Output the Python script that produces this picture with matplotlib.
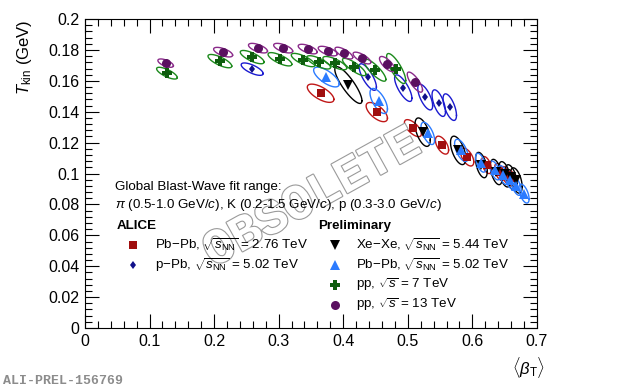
import numpy as np
import matplotlib
matplotlib.use("Agg")
import matplotlib.pyplot as plt
import matplotlib.patheffects as pe
from matplotlib.lines import Line2D
from matplotlib.ticker import MultipleLocator, FuncFormatter

plt.rcParams['font.family'] = ['Liberation Sans', 'DejaVu Sans']
plt.rcParams['mathtext.fontset'] = 'custom'
plt.rcParams['mathtext.rm'] = 'Liberation Sans'
plt.rcParams['mathtext.it'] = 'Liberation Sans:italic'
plt.rcParams['mathtext.bf'] = 'Liberation Sans:bold'

# Pb-Pb 2.76 TeV
pbpb276_beta = [0.365, 0.452, 0.508, 0.553, 0.592, 0.622, 0.642, 0.652, 0.660]
pbpb276_t = [0.1520, 0.1398, 0.1294, 0.1184, 0.1107, 0.1055, 0.1010, 0.0990, 0.0970]
pbpb276_sb = [0.0206, 0.0165, 0.0132, 0.0102, 0.0102, 0.0075, 0.0075, 0.0075, 0.0075]
pbpb276_st = [0.0059, 0.0062, 0.0055, 0.0058, 0.0058, 0.0055, 0.0055, 0.0055, 0.0055]
pbpb276_rho = [-0.67, -0.64, -0.66, -0.55, -0.55, -0.50, -0.50, -0.50, -0.50]

# p-Pb 5.02 TeV
ppb_beta = [0.259, 0.438, 0.493, 0.527, 0.548, 0.565]
ppb_t = [0.1676, 0.1625, 0.1553, 0.1495, 0.1456, 0.1430]
ppb_sb = [0.0170, 0.0134, 0.0134, 0.0115, 0.0104, 0.0104]
ppb_st = [0.0040, 0.0086, 0.0086, 0.0083, 0.0086, 0.0086]
ppb_rho = [-0.71, -0.76, -0.76, -0.68, -0.62, -0.62]

# Xe-Xe 5.44 TeV
xexe_beta = [0.408, 0.523, 0.578, 0.614, 0.637, 0.650, 0.660, 0.668]
xexe_t = [0.1573, 0.1268, 0.1150, 0.1055, 0.1010, 0.0995, 0.0975, 0.0955]
xexe_sb = [0.0210, 0.0118, 0.0118, 0.0091, 0.0091, 0.0091, 0.0091, 0.0091]
xexe_st = [0.0119, 0.0092, 0.0092, 0.0082, 0.0082, 0.0082, 0.0082, 0.0082]
xexe_rho = [-0.85, -0.56, -0.56, -0.49, -0.49, -0.49, -0.49, -0.49]

# Pb-Pb 5.02 TeV
pbpb502_beta = [0.374, 0.455, 0.531, 0.583, 0.613, 0.635, 0.648, 0.658, 0.668, 0.680]
pbpb502_t = [0.1625, 0.1470, 0.1260, 0.1150, 0.1070, 0.1020, 0.0990, 0.0960, 0.0920, 0.0870]
pbpb502_sb = [0.0198, 0.0135, 0.0105, 0.0105, 0.0079, 0.0079, 0.0079, 0.0079, 0.0079, 0.0079]
pbpb502_st = [0.0064, 0.0081, 0.0072, 0.0072, 0.0061, 0.0061, 0.0061, 0.0061, 0.0061, 0.0061]
pbpb502_rho = [-0.70, -0.64, -0.61, -0.61, -0.56, -0.56, -0.56, -0.56, -0.56, -0.56]

# pp 7 TeV
pp7_beta = [0.127, 0.209, 0.259, 0.302, 0.338, 0.362, 0.387, 0.417, 0.449, 0.482]
pp7_t = [0.1650, 0.1728, 0.1754, 0.1740, 0.1735, 0.1720, 0.1715, 0.1690, 0.1670, 0.1680]
pp7_sb = [0.0160, 0.0184, 0.0184, 0.0184, 0.0184, 0.0184, 0.0184, 0.0181, 0.0171, 0.0148]
pp7_st = [0.0038, 0.0043, 0.0043, 0.0043, 0.0043, 0.0043, 0.0043, 0.0056, 0.0072, 0.0097]
pp7_rho = [-0.75, -0.75, -0.75, -0.75, -0.75, -0.75, -0.75, -0.83, -0.84, -0.80]

# pp 13 TeV
pp13_beta = [0.125, 0.214, 0.268, 0.307, 0.345, 0.376, 0.401, 0.429, 0.468, 0.511]
pp13_t = [0.1715, 0.1786, 0.1812, 0.1812, 0.1806, 0.1793, 0.1780, 0.1748, 0.1709, 0.1592]
pp13_sb = [0.0120, 0.0147, 0.0147, 0.0147, 0.0147, 0.0147, 0.0137, 0.0137, 0.0118, 0.0118]
pp13_st = [0.0027, 0.0031, 0.0031, 0.0031, 0.0031, 0.0031, 0.0038, 0.0038, 0.0049, 0.0065]
pp13_rho = [-0.63, -0.63, -0.63, -0.63, -0.63, -0.63, -0.73, -0.73, -0.72, -0.78]

series = [
    # beta, T, sigma_beta, sigma_T, rho, ellipse colour, marker colour, marker, size, label
    (pbpb276_beta, pbpb276_t, pbpb276_sb, pbpb276_st, pbpb276_rho, '#c01818', '#a00e0e', 's', 6,
     r'Pb$-$Pb, $\sqrt{s_{\rm NN}}$ = 2.76 TeV'),
    (ppb_beta, ppb_t, ppb_sb, ppb_st, ppb_rho, '#1a1ad0', '#10108a', 'd', 4.5,
     r'p$-$Pb, $\sqrt{s_{\rm NN}}$ = 5.02 TeV'),
    (xexe_beta, xexe_t, xexe_sb, xexe_st, xexe_rho, 'black', 'black', 'v', 6.5,
     r'Xe$-$Xe, $\sqrt{s_{\rm NN}}$ = 5.44 TeV'),
    (pbpb502_beta, pbpb502_t, pbpb502_sb, pbpb502_st, pbpb502_rho, '#2b7bff', '#2b7bff', '^', 6.5,
     r'Pb$-$Pb, $\sqrt{s_{\rm NN}}$ = 5.02 TeV'),
    (pp7_beta, pp7_t, pp7_sb, pp7_st, pp7_rho, '#1c8a1c', '#0e5e0e', 'P', 6.5,
     r'pp, $\sqrt{s}$ = 7 TeV'),
    (pp13_beta, pp13_t, pp13_sb, pp13_st, pp13_rho, '#8a2a8a', '#5a1060', 'o', 6.5,
     r'pp, $\sqrt{s}$ = 13 TeV'),
]

fig = plt.figure(figsize=(6.2, 3.9), dpi=100)
ax = fig.add_axes([0.137, 0.159, 0.729, 0.792])

t = np.linspace(0, 2 * np.pi, 120)
circle = np.vstack([np.cos(t), np.sin(t)])

def draw_contours(ax, xs, ys, sxs, sys_, rhos, color):
    for x, y, sx, sy, r in zip(xs, ys, sxs, sys_, rhos):
        cov = np.array([[sx * sx, r * sx * sy], [r * sx * sy, sy * sy]])
        pts = np.linalg.cholesky(cov) @ circle
        ax.plot(x + pts[0], y + pts[1], color=color, lw=1.0, zorder=2)

for xs, ys, sxs, sys_, rhos, ecol, mcol, mk, ms, lab in series:
    draw_contours(ax, xs, ys, sxs, sys_, rhos, ecol)
    ax.plot(xs, ys, linestyle='none', marker=mk, color=mcol, markersize=ms,
            markeredgewidth=0, zorder=3)

ax.set_xlim(0, 0.7)
ax.set_ylim(0, 0.2)
ax.xaxis.set_major_locator(MultipleLocator(0.1))
ax.xaxis.set_minor_locator(MultipleLocator(0.02))
ax.yaxis.set_major_locator(MultipleLocator(0.02))
ax.yaxis.set_minor_locator(MultipleLocator(0.004))
fmt = FuncFormatter(lambda v, p: f'{round(v, 4):g}')
ax.xaxis.set_major_formatter(fmt)
ax.yaxis.set_major_formatter(fmt)
ax.tick_params(which='both', direction='in', top=True, right=True, labelsize=11.5, pad=4)
ax.tick_params(which='major', length=10, width=0.8)
ax.tick_params(which='minor', length=5, width=0.8)
for s in ax.spines.values():
    s.set_linewidth(0.8)

fig.text(545 / 620, 1 - 367 / 390, r'$\langle\beta_{\rm T}\rangle$', ha='right', va='center', fontsize=12)
fig.text(25 / 620, 1 - 20 / 390, r'$T_{\rm kin}$ (GeV)', ha='center', va='top', rotation=90, fontsize=12)

# watermark
fig.text(312 / 620, 1 - 198 / 390, 'OBSOLETE', ha='center', va='center', rotation=29,
         fontsize=36, family='Liberation Mono', weight='bold', color='white',
         path_effects=[pe.withStroke(linewidth=1.6, foreground='#9a9a9a')], zorder=1)

fs = 9.6
fig.text(115 / 620, 1 - 187 / 390, 'Global Blast-Wave fit range:', va='center', fontsize=fs)
fig.text(115 / 620, 1 - 205 / 390,
         r'$\pi$ (0.5-1.0 GeV/$c$), K (0.2-1.5 GeV/$c$), p (0.3-3.0 GeV/$c$)',
         va='center', fontsize=fs)
fig.text(117 / 620, 1 - 226 / 390, 'ALICE', va='center', fontsize=fs, weight='bold')
fig.text(318 / 620, 1 - 226 / 390, 'Preliminary', va='center', fontsize=fs, weight='bold')

slots = [(133, 155, 245), (133, 155, 265), (335, 356, 245), (335, 356, 265), (335, 356, 285), (335, 356, 305)]
for (mx, tx, ry), (xs, ys, sxs, sys_, rhos, ecol, mcol, mk, ms, lab) in zip(slots, series):
    fig.lines.append(Line2D([mx / 620], [1 - ry / 390], transform=fig.transFigure,
                            marker=mk, color=mcol, markersize=ms, markeredgewidth=0,
                            linestyle='none'))
    fig.text(tx / 620, 1 - ry / 390, lab, va='center', fontsize=fs)

fig.text(3 / 620, 1 - 381 / 390, 'ALI-PREL-156769', va='center', fontsize=9.5,
         family='Liberation Mono', weight='bold', color='#8c8c8c')

fig.savefig('out.png', dpi=100)
